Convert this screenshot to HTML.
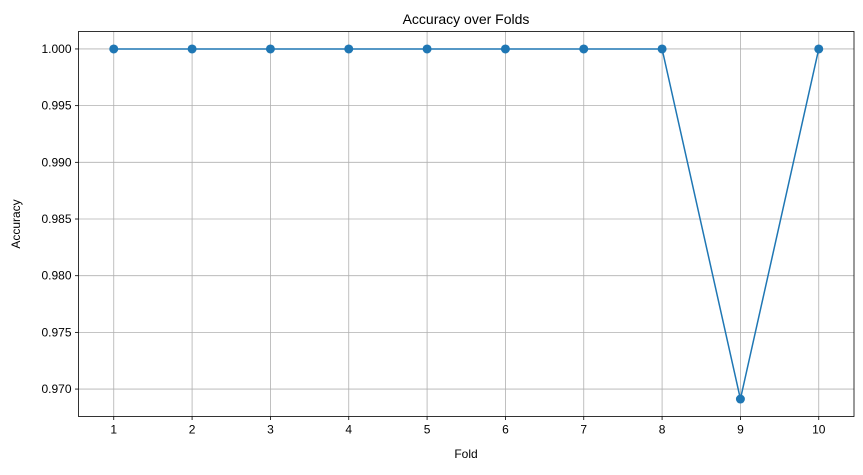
<!DOCTYPE html>
<html><head><meta charset="utf-8">
<style>
body{margin:0;background:#fff;}
svg text{font-family:"Liberation Sans","DejaVu Sans",sans-serif;fill:#000;}
</style></head>
<body>
<svg id="chart" width="863" height="470" xmlns="http://www.w3.org/2000/svg">
<g id="grid"></g>
<g id="series"></g>
<g id="axes"></g>
<text x="466" y="24" font-size="14" text-anchor="middle">Accuracy over Folds</text>
<text x="466" y="458" font-size="12" text-anchor="middle">Fold</text>
<text x="20" y="224" font-size="12" text-anchor="middle" transform="rotate(-90 20 224)">Accuracy</text>
</svg>
<script>
const folds = [1,2,3,4,5,6,7,8,9,10];
const accuracy = [1,1,1,1,1,1,1,1,0.96912,1];
const xTicks = [1,2,3,4,5,6,7,8,9,10];
const yTicks = [0.970,0.975,0.980,0.985,0.990,0.995,1.000];
const yTickLabels = ["0.970","0.975","0.980","0.985","0.990","0.995","1.000"];

const L=78.5,R=854,T=31.5,B=416.5;
const xMin=0.55,xMax=10.45,yMin=0.96758,yMax=1.00154;
const sx=v=>L+(v-xMin)/(xMax-xMin)*(R-L);
const sy=v=>B-(v-yMin)/(yMax-yMin)*(B-T);
const NS="http://www.w3.org/2000/svg";
function mk(tag,attrs,parent){const e=document.createElementNS(NS,tag);for(const k in attrs)e.setAttribute(k,attrs[k]);parent.appendChild(e);return e;}
const grid=document.getElementById('grid'),axes=document.getElementById('axes'),series=document.getElementById('series');
xTicks.forEach(t=>{
  const x=sx(t);
  const g=mk('line',{x1:x,x2:x,y1:T,y2:B,stroke:'#b0b0b0','stroke-width':0.8},grid);
  
  
  const tk=mk('line',{x1:x,x2:x,y1:B,y2:B+3.5,stroke:'#000','stroke-width':0.8},axes);
  
  
  const tx=mk('text',{x:x,y:B+17,'font-size':12,'text-anchor':'middle'},axes);
  tx.textContent=t;
  
  
});
yTicks.forEach((t,i)=>{
  const y=sy(t);
  const g=mk('line',{x1:L,x2:R,y1:y,y2:y,stroke:'#b0b0b0','stroke-width':0.8},grid);
  
  
  const tk=mk('line',{x1:L-3.5,x2:L,y1:y,y2:y,stroke:'#000','stroke-width':0.8},axes);
  
  
  const tx=mk('text',{x:L-7,y:y+4,'font-size':12,'text-anchor':'end'},axes);
  tx.textContent=yTickLabels[i];
  
  
});
const frame=mk('rect',{x:L,y:T,width:R-L,height:B-T,fill:'none',stroke:'#000','stroke-width':0.8},axes);


const pts=folds.map((f,i)=>sx(f)+','+sy(accuracy[i])).join(' ');
const line=mk('polyline',{points:pts,fill:'none',stroke:'#1f77b4','stroke-width':1.5},series);


folds.forEach((f,i)=>{
  const c=mk('circle',{cx:sx(f),cy:sy(accuracy[i]),r:4.5,fill:'#1f77b4'},series);
  
  
});
</script>
</body></html>
